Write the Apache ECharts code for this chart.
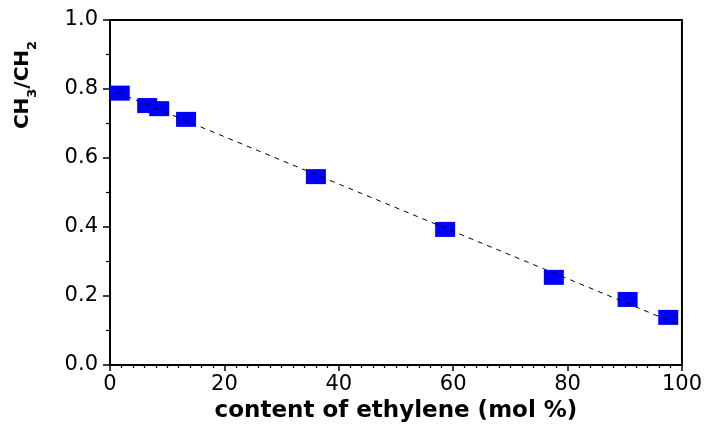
<!DOCTYPE html>
<html>
<head>
<meta charset="utf-8">
<script src="https://cdn.jsdelivr.net/npm/echarts@6/dist/echarts.min.js"></script>
<style>
  html, body { margin: 0; padding: 0; background: #fff; }
  #chart { width: 705px; height: 429px; }
</style>
</head>
<body>
<div id="chart"></div>
<script>
// Ethylene content (mol %) and measured CH3/CH2 ratio
var ethyleneContent = [1.7, 6.5, 8.6, 13.3, 36.0, 58.6, 77.6, 90.5, 97.6];
var ratioCH3CH2 = [0.788, 0.752, 0.743, 0.712, 0.546, 0.393, 0.254, 0.190, 0.138];
// Linear trend line end points [x, y]
var trendStart = [1.3, 0.790];
var trendEnd = [100, 0.113];
// Axis ranges
var xTicks = { min: 0, max: 100, step: 20 };
var yTicks = { min: 0, max: 1.0, step: 0.2 };

var points = ethyleneContent.map(function (x, i) { return [x, ratioCH3CH2[i]]; });

var chart = echarts.init(document.getElementById('chart'));
chart.setOption({
  animation: false,
  backgroundColor: '#ffffff',
  grid: {
    left: 110, right: 23, top: 20, bottom: 64,
    show: true, borderColor: '#000', borderWidth: 2, backgroundColor: 'transparent'
  },
  xAxis: {
    type: 'value',
    min: xTicks.min, max: xTicks.max, interval: xTicks.step,
    name: 'content of ethylene (mol %)',
    nameLocation: 'middle', nameGap: 30,
    nameTextStyle: { fontFamily: 'DejaVu Sans', fontWeight: 'bold', fontSize: 23, color: '#000' },
    axisLine: { show: true, onZero: false, lineStyle: { color: '#000', width: 2 } },
    axisTick: { show: true, inside: false, length: 6, lineStyle: { color: '#000', width: 1.5 } },
    minorTick: { show: true, splitNumber: 10, length: 3, lineStyle: { color: '#000', width: 1.2 } },
    axisLabel: { fontFamily: 'DejaVu Sans', fontSize: 21, color: '#000', margin: 9 },
    splitLine: { show: false }
  },
  yAxis: {
    type: 'value',
    min: yTicks.min, max: yTicks.max, interval: yTicks.step,
    axisLine: { show: true, onZero: false, lineStyle: { color: '#000', width: 2 } },
    axisTick: { show: true, inside: false, length: 7, lineStyle: { color: '#000', width: 1.5 } },
    minorTick: { show: true, splitNumber: 2, length: 4, lineStyle: { color: '#000', width: 1.2 } },
    axisLabel: {
      fontFamily: 'DejaVu Sans', fontSize: 21, color: '#000', margin: 12,
      formatter: function (v) { return v.toFixed(1); }
    },
    splitLine: { show: false }
  },
  graphic: [{
    type: 'text',
    x: 23, y: 85,
    rotation: Math.PI / 2,
    style: {
      text: '{a|CH}{s|3}{a|/CH}{s|2}',
      align: 'center',
      verticalAlign: 'middle',
      rich: {
        a: { fontFamily: 'DejaVu Sans', fontWeight: 'bold', fontSize: 20, lineHeight: 20, verticalAlign: 'top', fill: '#000' },
        s: { fontFamily: 'DejaVu Sans', fontWeight: 'bold', fontSize: 13, lineHeight: 13, padding: [13, 0, 0, 0], verticalAlign: 'top', fill: '#000' }
      }
    }
  }],
  series: [
    {
      type: 'scatter',
      data: points,
      symbol: 'rect',
      symbolSize: [20, 15],
      itemStyle: { color: '#0000ff', opacity: 1 },
      z: 2
    },
    {
      type: 'line',
      data: [trendStart, trendEnd],
      symbol: 'none',
      lineStyle: { color: '#000', width: 1, type: [5, 5] },
      z: 3
    }
  ]
});
</script>
</body>
</html>
